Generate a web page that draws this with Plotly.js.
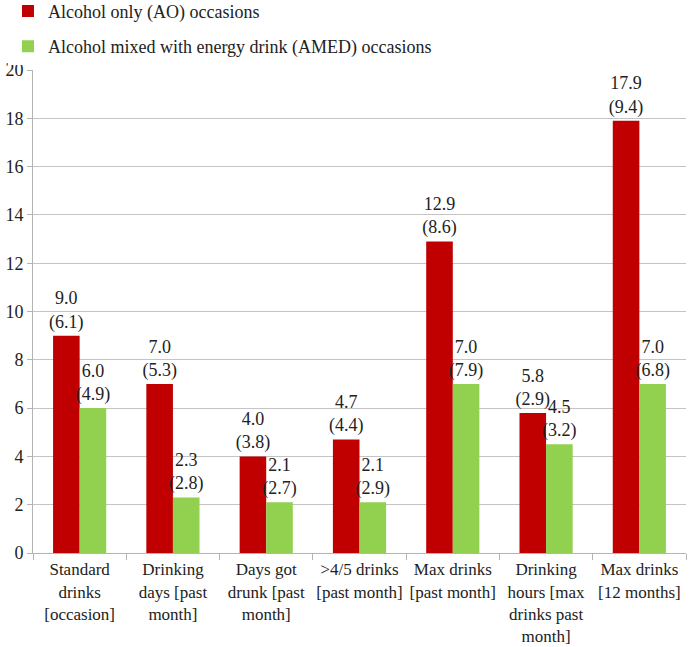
<!DOCTYPE html>
<html>
<head>
<meta charset="utf-8">
<script src="https://cdn.plot.ly/plotly-3.0.1.min.js"></script>
</head>
<body style="margin:0">
<div id="chart"></div>
<script>
  // categories (x tick labels, with manual line breaks as in the figure)
  const categories = [
    'Standard<br>drinks<br>[occasion]',
    'Drinking<br>days [past<br>month]',
    'Days got<br>drunk [past<br>month]',
    '&gt;4/5 drinks<br>[past month]',
    'Max drinks<br>[past month]',
    'Drinking<br>hours [max<br>drinks past<br>month]',
    'Max drinks<br>[12 months]'
  ];

  // means and SDs
  const aoMean   = [9.0, 7.0, 4.0, 4.7, 12.9, 5.8, 17.9];
  const aoSD     = [6.1, 5.3, 3.8, 4.4, 8.6, 2.9, 9.4];
  const amedMean = [6.0, 2.3, 2.1, 2.1, 7.0, 4.5, 7.0];
  const amedSD   = [4.9, 2.8, 2.7, 2.9, 7.9, 3.2, 6.8];

  const seriesNames = [
    'Alcohol only (AO) occasions',
    'Alcohol mixed with energy drink (AMED) occasions'
  ];

  const FONT = 'Liberation Serif';
  const label = (m, s) => m.map((v, i) => `${v.toFixed(1)}<br>(${s[i].toFixed(1)})`);

  function barTrace(name, y, sd, color, group){
    return {
      type: 'bar',
      name: name,
      x: categories,
      y: y,
      text: label(y, sd),
      textposition: 'outside',
      constraintext: 'none',
      cliponaxis: false,
      textfont: { family: FONT, size: 18 },
      marker: { color: color },
      legendgroup: group,
      hoverinfo: 'skip'
    };
  }

  const data = [
    barTrace(seriesNames[0], aoMean, aoSD, '#C00000', 'ao'),
    barTrace(seriesNames[1], amedMean, amedSD, '#92D050', 'amed')
  ];

  const layout = {
    width: 689,
    height: 647,
    margin: { l: 33, r: 3, t: 70, b: 94, autoexpand: false },
    font: { size: 18, color: '#222' },
    barmode: 'group',
    bargap: 0.43,
    bargroupgap: 0,
    showlegend: true,
    legend: {
      x: -0.0383, xanchor: 'left',
      y: 1.16, yanchor: 'top',
      traceorder: 'grouped',
      tracegroupgap: 9,
      font: { family: FONT, size: 18 }
    },
    xaxis: {
      type: 'category',
      showline: true,
      linecolor: '#b4b4b4',
      ticks: 'outside',
      tickson: 'boundaries',
      ticklen: 6,
      tickcolor: '#b4b4b4',
      tickangle: 0,
      ticklabelstandoff: 1,
      tickfont: { family: FONT, size: 17 },
      showgrid: false
    },
    yaxis: {
      range: [0, 20],
      dtick: 2,
      showline: true,
      linecolor: '#b4b4b4',
      ticks: 'outside',
      ticklen: 5,
      tickcolor: '#b4b4b4',
      gridcolor: '#c4c4c4',
      zeroline: false,
      tickfont: { family: FONT, size: 18 }
    }
  };

  Plotly.newPlot('chart', data, layout, { displayModeBar: false });
</script>
</body>
</html>
